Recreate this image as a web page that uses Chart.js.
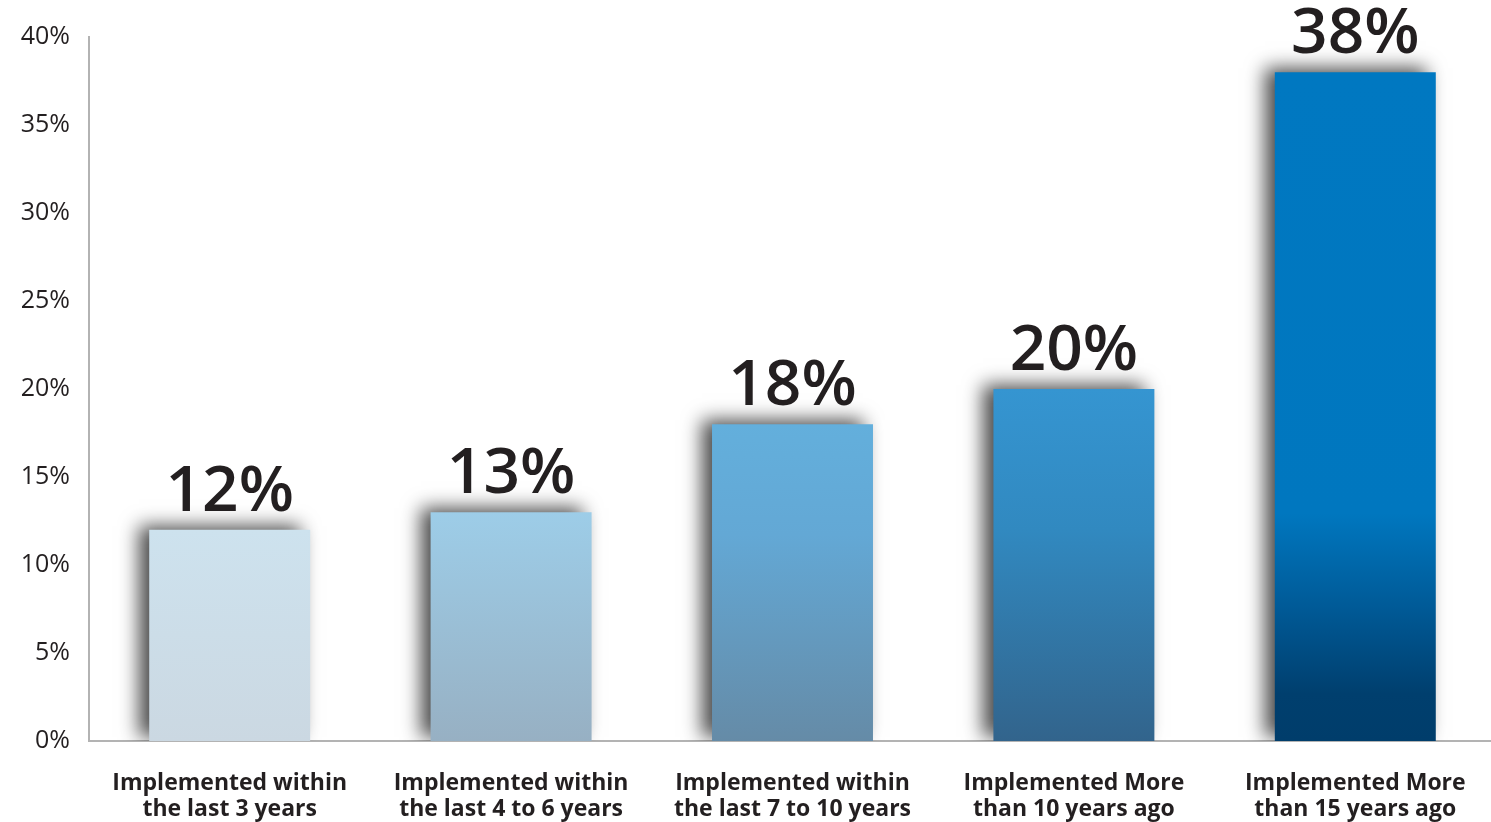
<!DOCTYPE html>
<html>
<head>
<meta charset="utf-8">
<script src="https://cdn.jsdelivr.net/npm/chart.js@4.4.1/dist/chart.umd.min.js"></script>
<style>
    html, body { margin: 0; padding: 0; background: #fff; overflow: hidden; }
    #wrap { width: 1500px; height: 822px; }
</style>
</head>
<body>
<div id="wrap"><canvas id="implChart" width="1500" height="822"></canvas></div>
<script>
var categories = [
    ["Implemented within", "the last 3 years"],
    ["Implemented within", "the last 4 to 6 years"],
    ["Implemented within", "the last 7 to 10 years"],
    ["Implemented More", "than 10 years ago"],
    ["Implemented More", "than 15 years ago"]
];
var shares = [12, 13, 18, 20, 38];
var yTicks = [0, 5, 10, 15, 20, 25, 30, 35, 40];

// gradient stops per bar, top -> bottom
var barStops = [
    [[0, "#cde2ee"], [1, "#cbd8e2"]],
    [[0, "#9dcde8"], [1, "#97b0c3"]],
    [[0, "#63afdc"], [0.35, "#63a8d5"], [1, "#658ba7"]],
    [[0, "#3595d1"], [0.4, "#3189c0"], [1, "#32648c"]],
    [[0, "#0078c1"], [0.66, "#0077bf"], [0.8, "#005a97"], [0.93, "#003f6e"], [1, "#003d6b"]]
];

function barFill(ctx) {
    var chart = ctx.chart;
    var i = ctx.dataIndex;
    if (!chart.chartArea || !chart.scales.y) return barStops[i][0][1];
    var top = chart.scales.y.getPixelForValue(shares[i]);
    var bottom = chart.scales.y.getPixelForValue(0);
    var g = chart.ctx.createLinearGradient(0, top, 0, bottom);
    barStops[i].forEach(function (s) { g.addColorStop(s[0], s[1]); });
    return g;
}

// soft shadow falling up and to the left of each bar
var barShadow = {
    id: "barShadow",
    beforeDatasetDraw: function (chart) {
        var c = chart.ctx;
        c.save();
        c.shadowColor = "rgba(0,0,0,0.7)";
        c.shadowBlur = 18;
        c.shadowOffsetX = -10;
        c.shadowOffsetY = -4;
    },
    afterDatasetDraw: function (chart) {
        chart.ctx.restore();
    }
};

// big percentage above each bar
var valueLabels = {
    id: "valueLabels",
    afterDatasetsDraw: function (chart) {
        var c = chart.ctx;
        var meta = chart.getDatasetMeta(0);
        c.save();
        c.fillStyle = "#231f20";
        c.font = "600 64px 'Open Sans'";
        c.textAlign = "center";
        c.textBaseline = "alphabetic";
        meta.data.forEach(function (bar, i) {
            c.fillText(shares[i] + "%", bar.x, bar.y - 19);
        });
        c.restore();
    }
};

new Chart(document.getElementById("implChart").getContext("2d"), {
    type: "bar",
    data: {
        labels: categories,
        datasets: [{
            data: shares,
            backgroundColor: barFill,
            borderWidth: 0,
            barPercentage: 0.572,
            categoryPercentage: 1
        }]
    },
    options: {
        responsive: false,
        animation: false,
        devicePixelRatio: 1,
        layout: { padding: { top: 37, right: 4, left: 0, bottom: 0 } },
        plugins: {
            legend: { display: false },
            tooltip: { enabled: false }
        },
        scales: {
            x: {
                grid: { display: false, drawTicks: false },
                border: { display: true, color: "#b3b3b3", width: 2 },
                ticks: {
                    color: "#231f20",
                    font: { family: "'Open Sans'", size: 23, weight: "bold", lineHeight: 1.12 },
                    padding: 30,
                    maxRotation: 0,
                    autoSkip: false
                },
                afterFit: function (scale) { scale.height = 81; }
            },
            y: {
                min: 0,
                max: 40,
                afterBuildTicks: function (scale) {
                    scale.ticks = yTicks.map(function (v) { return { value: v }; });
                },
                grid: { display: false, drawTicks: false },
                border: { display: true, color: "#b3b3b3", width: 2 },
                ticks: {
                    color: "#231f20",
                    font: { family: "'Open Sans'", size: 25 },
                    padding: 19,
                    callback: function (v) { return v + "%"; }
                },
                afterFit: function (scale) { scale.width = 89; }
            }
        }
    },
    plugins: [barShadow, valueLabels]
});
</script>
</body>
</html>
